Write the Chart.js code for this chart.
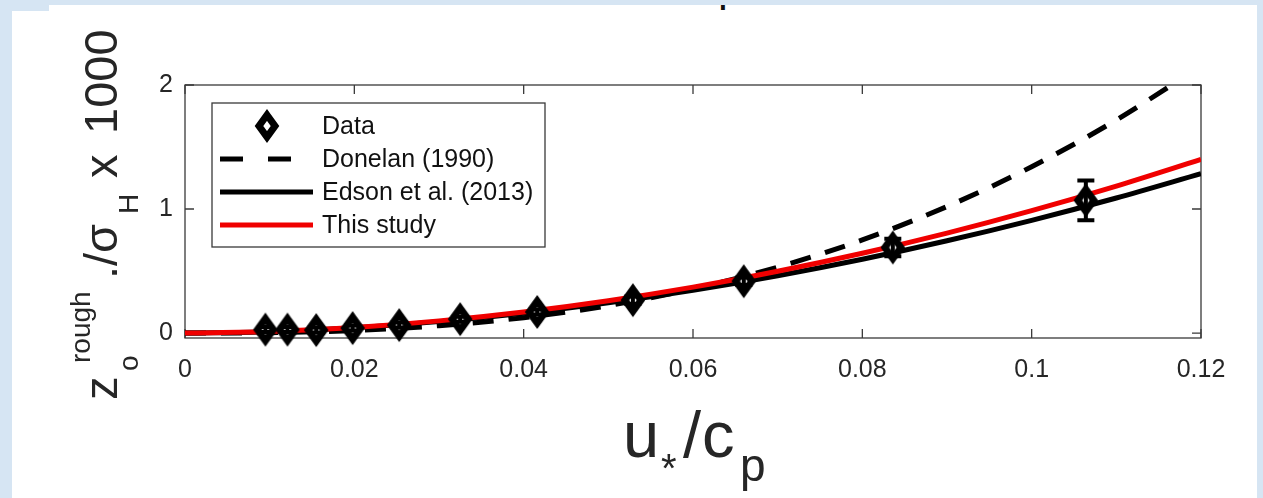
<!DOCTYPE html>
<html>
<head>
<meta charset="utf-8">
<style>
  html, body { margin: 0; padding: 0; }
  body { width: 1263px; height: 498px; background: #d6e5f3; position: relative; overflow: hidden; }
  .panel { position: absolute; background: #ffffff; }
  #chart_0 { position: absolute; left: 0; top: 0; }
  #frag { position: absolute; left: 714px; top: 5px; width: 30px; height: 8px; overflow: hidden; }
  #frag span { position: absolute; left: 4px; top: -41px; font: 44px "Liberation Sans", Arial, sans-serif; color: #111; line-height: 44px; }
</style>
</head>
<body>
<div class="panel" style="left:12px; top:11px; width:1245px; height:487px;"></div>
<div class="panel" style="left:49px; top:5px; width:1208px; height:493px;"></div>
<div id="frag"><span>p</span></div>
<canvas id="chart_0" width="1263" height="498"></canvas>
<script src="https://cdn.jsdelivr.net/npm/chart.js@4.4.0/dist/chart.umd.min.js"></script>
<script>
// Axis ticks
const xTicks = [0, 0.02, 0.04, 0.06, 0.08, 0.1, 0.12];
const yTicks = [0, 1, 2];

// Measured points (u*/cp, z0/sigma_H x 1000) and error half-widths
const dataX = [0.0095, 0.0121, 0.0155, 0.0198, 0.0253, 0.0325, 0.0416, 0.0529, 0.0660, 0.0836, 0.1064];
const dataY = [0.028, 0.028, 0.024, 0.040, 0.064, 0.112, 0.170, 0.265, 0.418, 0.690, 1.070];
const dataErr = [0.02, 0.02, 0.02, 0.02, 0.02, 0.02, 0.02, 0.03, 0.03, 0.07, 0.16];

// Model curves
const curveX = [0, 0.01, 0.02, 0.03, 0.04, 0.05, 0.06, 0.07, 0.08, 0.09, 0.10, 0.11, 0.12];
const donelanY = [0, 0.003, 0.020, 0.059, 0.124, 0.221, 0.356, 0.531, 0.751, 1.020, 1.341, 1.718, 2.154];
const edsonY = [0, 0.011, 0.043, 0.092, 0.159, 0.244, 0.345, 0.462, 0.595, 0.744, 0.909, 1.089, 1.285];
const studyY = [0, 0.012, 0.045, 0.098, 0.170, 0.261, 0.370, 0.498, 0.643, 0.806, 0.987, 1.185, 1.400];

const FONT = '"Liberation Sans", Arial, sans-serif';
const TEXT = '#262626';

function toPoints(xs, ys) {
    return xs.map((x, i) => ({ x: x, y: ys[i] }));
}

// Hollow thick diamond marker (MATLAB 'd' with heavy line)
function makeDiamond() {
    const c = document.createElement('canvas');
    c.width = 30; c.height = 40;
    const g = c.getContext('2d');
    g.beginPath();
    g.moveTo(15, 9); g.lineTo(23, 20); g.lineTo(15, 31); g.lineTo(7, 20); g.closePath();
    g.fillStyle = '#fff';
    g.fill();
    g.lineWidth = 7;
    g.lineJoin = 'miter';
    g.miterLimit = 10;
    g.strokeStyle = '#000';
    g.stroke();
    return c;
}
const diamond = makeDiamond();

// Box + inward ticks
const boxPlugin = {
    id: 'box',
    beforeDatasetsDraw(chart) {
        const { ctx, chartArea: a, scales: { x, y } } = chart;
        ctx.save();
        ctx.strokeStyle = '#3a3a3a';
        ctx.lineWidth = 1.3;
        ctx.strokeRect(a.left, a.top, a.right - a.left, a.bottom - a.top);
        ctx.beginPath();
        xTicks.forEach(v => {
            const px = x.getPixelForValue(v);
            ctx.moveTo(px, a.bottom); ctx.lineTo(px, a.bottom - 9);
            ctx.moveTo(px, a.top); ctx.lineTo(px, a.top + 9);
        });
        yTicks.forEach(v => {
            const py = y.getPixelForValue(v);
            ctx.moveTo(a.left, py); ctx.lineTo(a.left + 9, py);
            ctx.moveTo(a.right, py); ctx.lineTo(a.right - 9, py);
        });
        ctx.stroke();
        ctx.restore();
    }
};

// Error bars on the data points
const errorBarPlugin = {
    id: 'errorBars',
    afterDatasetsDraw(chart) {
        const { ctx, scales: { x, y } } = chart;
        ctx.save();
        ctx.strokeStyle = '#000';
        ctx.lineWidth = 4;
        dataX.forEach((vx, i) => {
            const px = x.getPixelForValue(vx);
            const top = y.getPixelForValue(dataY[i] + dataErr[i]);
            const bot = y.getPixelForValue(dataY[i] - dataErr[i]);
            ctx.beginPath();
            ctx.moveTo(px, top); ctx.lineTo(px, bot);
            ctx.moveTo(px - 8.5, top); ctx.lineTo(px + 8.5, top);
            ctx.moveTo(px - 8.5, bot); ctx.lineTo(px + 8.5, bot);
            ctx.stroke();
        });
        ctx.restore();
    }
};

// Legend box and axis titles
const legendOrder = [0, 3, 2, 1];
const overlayPlugin = {
    id: 'overlay',
    afterDraw(chart) {
        const ctx = chart.ctx;
        const sets = chart.data.datasets;
        ctx.save();

        // legend
        ctx.fillStyle = '#fff';
        ctx.fillRect(212, 103, 333, 144);
        ctx.strokeStyle = '#3a3a3a';
        ctx.lineWidth = 1.3;
        ctx.strokeRect(212, 103, 333, 144);
        ctx.font = '25px ' + FONT;
        ctx.textBaseline = 'middle';
        ctx.textAlign = 'left';
        legendOrder.forEach((di, row) => {
            const ds = sets[di];
            const cy = 126 + row * 33;
            if (di === 0) {
                ctx.drawImage(diamond, 267 - diamond.width / 2, cy - diamond.height / 2);
            } else {
                ctx.beginPath();
                ctx.strokeStyle = ds.borderColor;
                ctx.lineWidth = ds.borderWidth;
                ctx.setLineDash(ds.borderDash && ds.borderDash.length ? [23, 25] : []);
                ctx.moveTo(220, cy);
                ctx.lineTo(di === 3 ? 292 : 313, cy);
                ctx.stroke();
                ctx.setLineDash([]);
            }
            ctx.fillStyle = '#111';
            ctx.fillText(ds.label, 322, cy + 1);
        });

        // x title: u*/cp
        ctx.fillStyle = TEXT;
        ctx.textBaseline = 'alphabetic';
        ctx.font = '65px ' + FONT;
        ctx.fillText('u', 623, 457);
        ctx.fillText('/', 683, 457);
        ctx.fillText('c', 702, 457);
        ctx.font = '40px ' + FONT;
        ctx.fillText('*', 661, 482);
        ctx.font = '46px ' + FONT;
        ctx.fillText('p', 740, 481);

        // y title: z_o^rough ./ sigma_H x 1000 (rotated)
        ctx.rotate(-Math.PI / 2);
        const main = '47px ' + FONT, small = '28px ' + FONT;
        const put = (txt, font, yStart, xBase) => {
            ctx.font = font;
            ctx.fillText(txt, -yStart, xBase);
        };
        put('z', main, 400, 117);
        put('o', small, 371, 138);
        put('rough', small, 363, 90);
        put('./\u03C3', main, 279, 117);
        put('H', small, 214, 138);
        put('x', main, 178, 117);
        put('1000', main, 134, 117);
        ctx.restore();
    }
};

function createChart0() {
    const ctx = document.getElementById('chart_0');
    if (!ctx) return;

    new Chart(ctx.getContext('2d'), {
        type: 'line',
        data: {
            datasets: [
                {
                    label: 'Data',
                    data: toPoints(dataX, dataY),
                    showLine: false,
                    pointStyle: diamond,
                    pointRadius: 12,
                    borderColor: '#000',
                    backgroundColor: '#fff',
                    clip: false,
                    order: 0
                },
                {
                    label: 'This study',
                    data: toPoints(curveX, studyY),
                    borderColor: '#f00000',
                    borderWidth: 5,
                    pointRadius: 0,
                    cubicInterpolationMode: 'monotone',
                    clip: 0,
                    order: 1
                },
                {
                    label: 'Edson et al. (2013)',
                    data: toPoints(curveX, edsonY),
                    borderColor: '#000000',
                    borderWidth: 5,
                    pointRadius: 0,
                    cubicInterpolationMode: 'monotone',
                    clip: 0,
                    order: 2
                },
                {
                    label: 'Donelan (1990)',
                    data: toPoints(curveX, donelanY),
                    borderColor: '#000000',
                    borderWidth: 5,
                    borderDash: [21, 15],
                    borderCapStyle: 'butt',
                    pointRadius: 0,
                    cubicInterpolationMode: 'monotone',
                    clip: 0,
                    order: 3
                }
            ]
        },
        options: {
            responsive: false,
            devicePixelRatio: 1,
            animation: false,
            events: [],
            layout: { padding: { left: 0, top: 85, right: 62, bottom: 0 } },
            plugins: {
                legend: { display: false },
                tooltip: { enabled: false }
            },
            scales: {
                x: {
                    type: 'linear',
                    min: 0,
                    max: 0.12,
                    afterBuildTicks: s => { s.ticks = xTicks.map(v => ({ value: v })); },
                    afterFit: s => { s.height = 160; },
                    grid: { display: false, drawTicks: false, tickLength: 0 },
                    border: { display: false },
                    ticks: {
                        autoSkip: false,
                        maxRotation: 0,
                        padding: 17,
                        color: TEXT,
                        font: { family: FONT, size: 25 },
                        callback: v => String(Number(v.toFixed(2)))
                    }
                },
                y: {
                    type: 'linear',
                    min: -0.04,
                    max: 2,
                    afterBuildTicks: s => { s.ticks = yTicks.map(v => ({ value: v })); },
                    afterFit: s => { s.width = 185; },
                    grid: { display: false, drawTicks: false, tickLength: 0 },
                    border: { display: false },
                    ticks: {
                        padding: 12,
                        color: TEXT,
                        font: { family: FONT, size: 25 },
                        callback: v => String(v)
                    }
                }
            }
        },
        plugins: [boxPlugin, errorBarPlugin, overlayPlugin]
    });
}

createChart0();
</script>
</body>
</html>
